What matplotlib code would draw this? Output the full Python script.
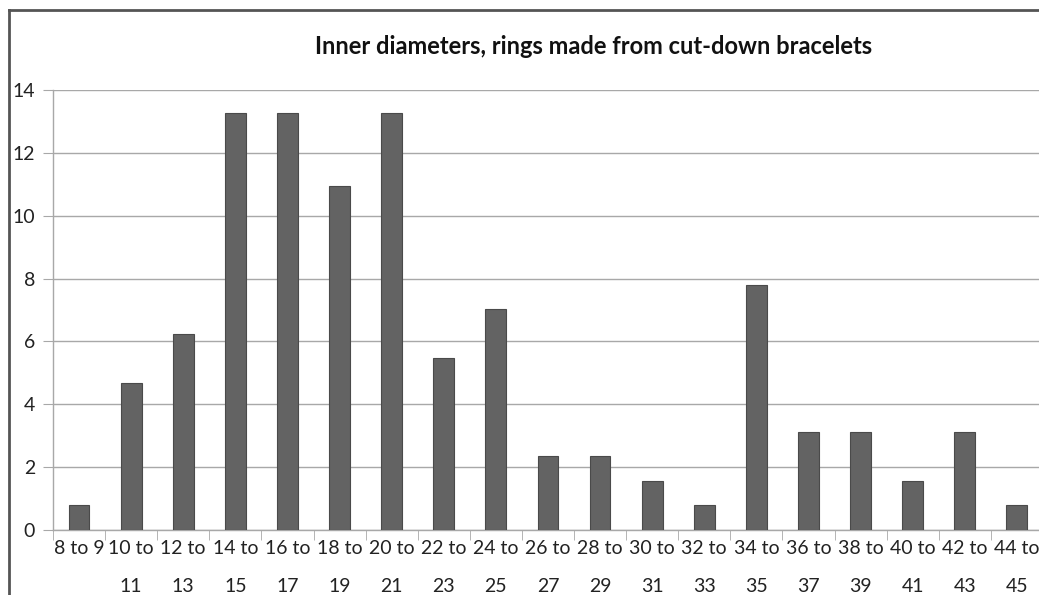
import matplotlib
matplotlib.use("Agg")
import matplotlib.pyplot as plt
from matplotlib.lines import Line2D

# ring inner diameter bins (mm) and share of rings (%)
categories = ["8 to 9", "10 to\n11", "12 to\n13", "14 to\n15", "16 to\n17", "18 to\n19",
              "20 to\n21", "22 to\n23", "24 to\n25", "26 to\n27", "28 to\n29", "30 to\n31",
              "32 to\n33", "34 to\n35", "36 to\n37", "38 to\n39", "40 to\n41", "42 to\n43",
              "44 to\n45"]
values = [0.78, 4.69, 6.25, 13.28, 13.28, 10.94, 13.28, 5.47, 7.03, 2.34, 2.34, 1.56,
          0.78, 7.81, 3.13, 3.13, 1.56, 3.13, 0.78]
yticks = [0, 2, 4, 6, 8, 10, 12, 14]

plt.rcParams['font.family'] = ['Lato', 'DejaVu Sans']

W, H = 1039, 595
fig = plt.figure(figsize=(W / 100, H / 100), dpi=100)

# plot area: y=0 at 530px, y=14 at 90px, x-axis starts at 53px, one category ~52px
x0, x1 = 53, 53 + 52.1 * len(categories)
ax = fig.add_axes([x0 / W, 1 - 530 / H, (x1 - x0) / W, 440 / H])

xs = list(range(len(categories)))
ax.bar(xs, values, width=0.4, color="#636363", edgecolor="#4a4a4a", linewidth=0.8, zorder=3)

ax.set_xlim(-0.5, len(categories) - 0.5)
ax.set_ylim(0, 14)
ax.set_yticks(yticks)
ax.set_yticklabels([str(t) for t in yticks], fontsize=14, color="#222222")
ax.yaxis.grid(True, color="#a8a8a8", linewidth=1.0, zorder=0)
ax.tick_params(axis="y", length=7, color="#a8a8a8", pad=6)

# category labels at centres, tick marks between categories
ax.set_xticks(xs)
ax.set_xticklabels(categories, fontsize=14, color="#222222", linespacing=2.5)
ax.tick_params(axis="x", which="major", length=0, pad=7)
ax.set_xticks([i - 0.5 for i in range(len(categories) + 1)], minor=True)
ax.tick_params(axis="x", which="minor", length=7, color="#a8a8a8")

for side in ["top", "right"]:
    ax.spines[side].set_visible(False)
for side in ["left", "bottom"]:
    ax.spines[side].set_color("#a8a8a8")
    ax.spines[side].set_linewidth(1.0)

fig.text(594 / W, 1 - 47 / H, "Inner diameters, rings made from cut-down bracelets",
         ha="center", va="center", fontsize=17, fontweight="bold", color="#111111")

# outer chart border (cropped on right and bottom)
fig.add_artist(Line2D([9 / W, 9 / W], [0, 1 - 10 / H], transform=fig.transFigure,
                      color="#555555", linewidth=2))
fig.add_artist(Line2D([9 / W, 1], [1 - 10 / H, 1 - 10 / H], transform=fig.transFigure,
                      color="#555555", linewidth=2))

fig.savefig("out.png", dpi=100)
